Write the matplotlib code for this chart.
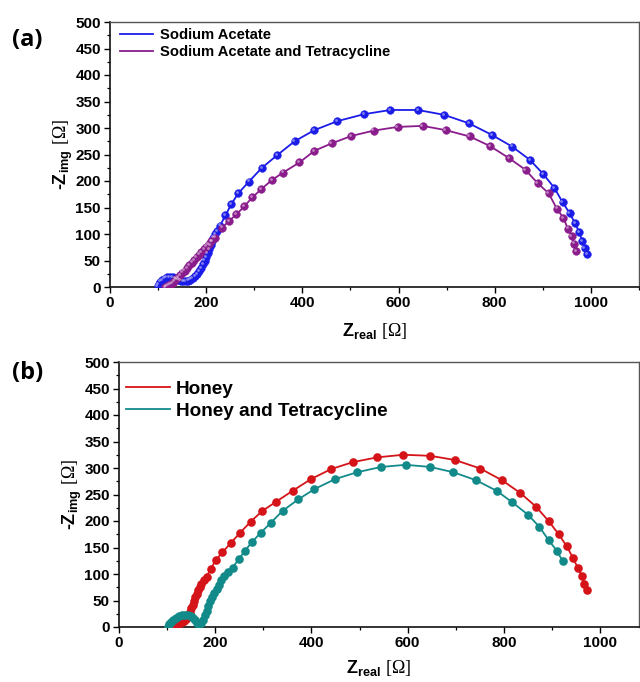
import matplotlib
matplotlib.use("Agg")
import matplotlib.pyplot as plt
from matplotlib.ticker import MultipleLocator
from matplotlib.transforms import offset_copy

plt.rcParams['font.family'] = ['Liberation Sans', 'DejaVu Sans']
plt.rcParams['mathtext.fontset'] = 'custom'
plt.rcParams['mathtext.rm'] = 'Liberation Serif'
plt.rcParams['mathtext.bf'] = 'Liberation Sans:bold'
plt.rcParams['mathtext.it'] = 'Liberation Sans:italic'

# ---------------- data: panel (a) ----------------
sa_labels = ["Sodium Acetate", "Sodium Acetate and Tetracycline"]
sa_x = [99, 101, 104, 108, 113, 118, 124, 130, 136, 142, 147, 152, 157, 162, 167, 172,
        177, 181, 185, 189, 193, 197, 200, 203, 206, 209, 212, 215, 218, 222, 229, 240,
        252, 267, 289, 316, 348, 384, 425, 473, 528, 583, 640, 694, 746, 794, 836, 873,
        901, 924, 941, 956, 967, 976, 982, 987, 992]
sa_y = [2, 6, 10, 13, 16, 18, 19, 18, 16, 14, 12, 11, 11, 12, 14, 17,
        21, 25, 30, 36, 43, 50, 57, 64, 72, 79, 86, 93, 100, 106, 116, 135,
        156, 177, 199, 225, 249, 275, 296, 313, 326, 334, 334, 325, 309, 287, 265, 240,
        213, 187, 160, 139, 120, 103, 87, 74, 62]

sat_x = [114, 118, 122, 126, 130, 134, 138, 142, 146, 150, 155, 160, 165, 170, 175, 180,
         185, 190, 195, 200, 205, 210, 218, 233, 248, 263, 279, 296, 315, 337, 360, 394,
         425, 461, 502, 548, 598, 650, 698, 748, 790, 830, 864, 889, 912, 929, 943, 952,
         960, 965, 970]
sat_y = [0, 1, 3, 5, 8, 11, 15, 19, 23, 27, 31, 36, 41, 46, 51, 56,
         61, 66, 71, 76, 81, 86, 93, 112, 125, 137, 152, 169, 185, 202, 216, 235,
         257, 271, 285, 295, 302, 304, 296, 284, 266, 243, 221, 196, 177, 148, 130, 110,
         96, 82, 68]

# ---------------- data: panel (b) ----------------
h_labels = ["Honey", "Honey and Tetracycline"]
h_x = [106, 110, 115, 120, 125, 130, 135, 140, 144, 147, 150, 153, 156, 159, 162, 165,
       168, 171, 176, 182, 191, 201, 215, 232, 252, 274, 298, 326, 361, 399, 441, 486,
       536, 591, 647, 699, 751, 796, 834, 867, 893, 914, 931, 944, 954, 962, 967, 972]
h_y = [0, 1, 2, 4, 6, 9, 12, 16, 21, 28, 35, 42, 49, 56, 63, 70,
       76, 81, 88, 95, 110, 126, 141, 158, 178, 199, 219, 236, 257, 279, 298, 311,
       320, 325, 323, 315, 299, 277, 253, 227, 200, 175, 152, 130, 111, 96, 82, 70]

ht_x = [101, 104, 108, 113, 118, 124, 130, 137, 143, 149, 154, 158, 162, 166, 170, 174,
        178, 182, 186, 190, 194, 198, 203, 208, 213, 219, 226, 236, 249, 262, 277, 295,
        316, 340, 373, 406, 449, 495, 545, 596, 647, 695, 742, 785, 818, 850, 874, 893,
        910, 922]
ht_y = [0, 5, 9, 13, 17, 20, 22, 23, 22, 20, 17, 13, 8, 3, 8, 14,
        22, 31, 40, 49, 57, 64, 72, 80, 88, 96, 104, 112, 128, 144, 161, 178,
        197, 219, 241, 260, 279, 292, 302, 306, 302, 292, 277, 257, 235, 212, 189, 164,
        144, 125]

x_major = [0, 200, 400, 600, 800, 1000]

BLUE = '#1c1ce8'
PURPLE = '#8a1c8c'
RED = '#d41418'
TEAL = '#138a8a'

fig = plt.figure(figsize=(6.4, 6.82), dpi=100)
W, H = 640.0, 682.0

def make_axes(left, right, top, bottom):
    return fig.add_axes([left / W, 1 - bottom / H, (right - left) / W, (bottom - top) / H])

ax1 = make_axes(110, 639, 22, 287)
ax2 = make_axes(119, 639, 362, 627)

def style(ax, xmax, xpad):
    ax.set_xlim(0, xmax)
    ax.set_ylim(0, 500)
    ax.set_xticks(x_major)
    ax.xaxis.set_minor_locator(MultipleLocator(100))
    ax.yaxis.set_major_locator(MultipleLocator(50))
    ax.yaxis.set_minor_locator(MultipleLocator(25))
    ax.tick_params(which='major', direction='out', length=4, width=1.0, labelsize=11, pad=2.5)
    ax.tick_params(which='minor', direction='out', length=2.2, width=0.9)
    for lab in ax.get_xticklabels() + ax.get_yticklabels():
        lab.set_fontweight('bold')
    for s in ['left', 'bottom']:
        ax.spines[s].set_linewidth(1.2)
        ax.spines[s].set_color('#111111')
    for s in ['top', 'right']:
        ax.spines[s].set_linewidth(1.0)
        ax.spines[s].set_color('#555555')
    ax.set_ylabel(r'-$\mathbf{Z}_{\mathbf{img}}$ $\mathrm{[\Omega]}$', fontsize=13,
                  fontweight='bold', labelpad=0)
    ax.set_xlabel(r'$\mathbf{Z}_{\mathbf{real}}$ $\mathrm{[\Omega]}$', fontsize=13,
                  fontweight='bold', labelpad=xpad)

style(ax1, 1100, 8)
style(ax2, 1081, 6)

# panel (a): spheres + fit lines
hl = offset_copy(ax1.transData, fig=fig, x=-0.9, y=0.9, units='points')
for xs, ys, c, lab in [(sa_x, sa_y, BLUE, sa_labels[0]), (sat_x, sat_y, PURPLE, sa_labels[1])]:
    ax1.plot(xs, ys, '-', color=c, lw=1.3, label=lab, zorder=3)
    ax1.plot(xs, ys, 'o', color=c, ms=5.6, mec=c, mew=0.3, zorder=4)
    ax1.plot(xs, ys, 'o', color='white', alpha=0.45, ms=2.0, mew=0, transform=hl, zorder=5)

ax1.legend(loc='upper left', bbox_to_anchor=(0.018, 0.978), frameon=False,
           prop={'family': 'Liberation Sans', 'weight': 'bold', 'size': 10.6},
           handlelength=2.3, handletextpad=0.42, labelspacing=0.22, borderpad=0,
           borderaxespad=0)

# panel (b)
for xs, ys, c, lab in [(h_x, h_y, RED, h_labels[0]), (ht_x, ht_y, TEAL, h_labels[1])]:
    ax2.plot(xs, ys, '-', color=c, lw=1.3, label=lab, zorder=3)
    ax2.plot(xs, ys, 'o', color=c, ms=6.2, mew=0, zorder=4)

ax2.legend(loc='upper left', bbox_to_anchor=(0.013, 0.93), frameon=False,
           prop={'family': 'Liberation Sans', 'weight': 'bold', 'size': 13.7},
           handlelength=2.35, handletextpad=0.3, labelspacing=0.25, borderpad=0,
           borderaxespad=0)

fig.text(12 / W, 1 - 40 / H, '(a)', fontsize=17, fontweight='bold', family='Open Sans',
         ha='left', va='center')
fig.text(12 / W, 1 - 373 / H, '(b)', fontsize=17, fontweight='bold', family='Open Sans',
         ha='left', va='center')

fig.savefig('out.png', dpi=100)
